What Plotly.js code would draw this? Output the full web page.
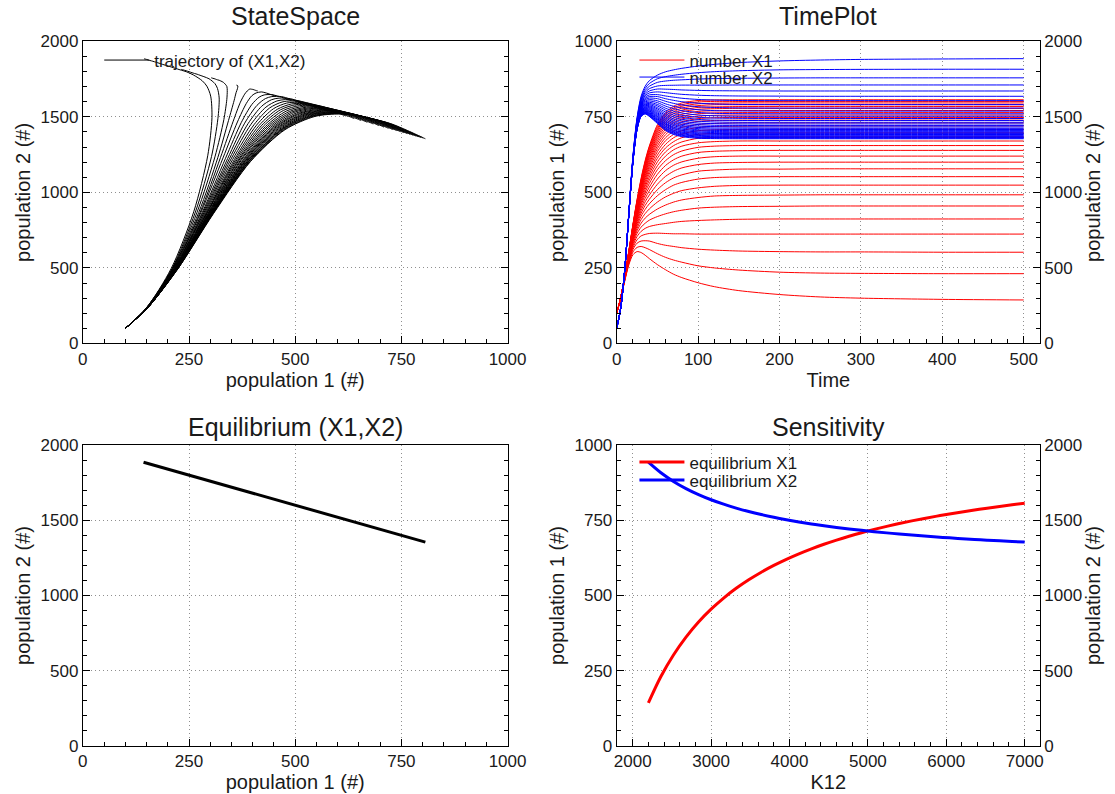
<!DOCTYPE html>
<html><head><meta charset="utf-8">
<script src="https://cdn.plot.ly/plotly-3.0.1.min.js"></script>
<style>html,body{margin:0;padding:0;background:#fff}#chart{width:1115px;height:794px}</style>
</head><body><div id="chart"></div>
<script>
// time samples (shared by every run)
const T = [0,5,10,15,20,25,30,35,40,50,60,70,80,100,120,150,200,250,300,400,500];
// parameter values of the runs
const K12 = [2200,2360,2520,2680,2840,3000,3160,3320,3480,3640,3800,3960,4120,4280,4440,4600,4760,4920,5080,5240,5400,5560,5720,5880,6040,6200,6360,6520,6680,6840,7000];
// equilibrium of each run
const EQ_X1 = [142.9,230.8,302.3,361.7,411.8,454.5,491.5,523.8,552.2,577.5,600.0,620.3,638.6,655.2,670.3,684.2,697.0,708.7,719.6,729.7,739.1,747.9,756.1,763.8,771.0,777.8,784.2,790.2,795.9,801.3,806.5];
const EQ_X2 = [1885.7,1815.4,1758.2,1710.6,1670.6,1636.4,1606.8,1581.0,1558.2,1538.0,1520.0,1503.8,1489.1,1475.8,1463.8,1452.6,1442.4,1433.0,1424.3,1416.2,1408.7,1401.7,1395.1,1389.0,1383.2,1377.8,1372.6,1367.8,1363.3,1359.0,1354.8];

// population 1 and population 2 over T, one pair per K12 value
const X1_2200 = [100,150,208,261,294,304,301,292,281,261,244,229,218,201,188,175,162,154,150,146,144];
const X2_2200 = [100,237,496,871,1242,1495,1637,1703,1739,1776,1798,1811,1821,1836,1847,1859,1870,1876,1880,1883,1885];
const X1_2360 = [100,150,210,265,303,318,321,317,311,297,285,276,269,257,250,243,236,233,232,231,231];
const X2_2360 = [100,237,496,870,1238,1488,1625,1688,1720,1752,1766,1775,1782,1792,1799,1805,1811,1813,1814,1815,1815];
const X1_2520 = [100,150,211,269,311,332,339,340,339,331,325,321,317,312,309,306,304,303,303,302,302];
const X2_2520 = [100,237,496,869,1235,1482,1615,1674,1702,1728,1737,1742,1745,1750,1753,1755,1757,1758,1758,1758,1758];
const X1_2680 = [100,151,212,273,318,343,356,361,364,365,364,363,363,362,362,362,362,362,362,362,362];
const X2_2680 = [100,237,496,868,1232,1476,1606,1662,1686,1704,1708,1709,1710,1710,1710,1711,1711,1711,1711,1711,1711];
const X1_2840 = [100,151,213,276,324,354,371,381,387,393,397,401,404,407,409,411,412,412,412,412,412];
const X2_2840 = [100,237,496,867,1230,1471,1597,1650,1671,1684,1683,1681,1678,1675,1673,1672,1671,1671,1671,1671,1671];
const X1_3000 = [100,151,214,278,330,364,385,398,408,420,429,436,441,448,451,453,454,455,455,455,455];
const X2_3000 = [100,237,496,867,1228,1466,1589,1640,1658,1665,1660,1654,1649,1643,1640,1638,1637,1636,1636,1636,1636];
const X1_3160 = [100,151,215,281,336,373,398,415,427,445,458,468,475,483,488,490,491,492,492,492,492];
const X2_3160 = [100,237,496,866,1226,1462,1582,1630,1645,1647,1638,1630,1623,1615,1611,1608,1607,1607,1607,1607,1607];
const X1_3320 = [100,152,216,283,341,381,410,430,445,468,485,497,506,515,520,523,524,524,524,524,524];
const X2_3320 = [100,237,495,866,1224,1458,1576,1621,1634,1634,1620,1609,1600,1590,1585,1582,1581,1581,1581,1581,1581];
const X1_3480 = [100,152,216,285,345,389,421,444,462,489,509,524,533,544,549,551,552,552,552,552,552];
const X2_3480 = [100,237,495,865,1222,1455,1570,1613,1624,1620,1603,1589,1579,1567,1562,1559,1558,1558,1558,1558,1558];
const X1_3640 = [100,152,217,287,349,396,431,457,477,509,532,548,558,570,574,577,577,578,578,578,578];
const X2_3640 = [100,237,495,865,1221,1451,1564,1605,1614,1606,1586,1570,1559,1547,1541,1539,1538,1538,1538,1538,1538];
const X1_3800 = [100,152,218,289,353,403,440,469,491,527,553,570,581,592,597,599,600,600,600,600,600];
const X2_3800 = [100,237,495,864,1219,1448,1559,1598,1605,1594,1571,1554,1541,1529,1523,1521,1520,1520,1520,1520,1520];
const X1_3960 = [100,152,218,291,357,409,449,480,505,544,572,590,601,613,618,620,620,620,620,620,620];
const X2_3960 = [100,237,495,864,1218,1445,1554,1591,1596,1582,1557,1538,1525,1512,1507,1504,1504,1504,1504,1504,1504];
const X1_4120 = [100,152,219,292,360,415,458,491,517,560,589,608,620,632,636,638,639,639,639,639,639];
const X2_4120 = [100,237,495,863,1217,1443,1550,1585,1588,1572,1544,1524,1510,1497,1492,1490,1489,1489,1489,1489,1489];
const X1_4280 = [100,152,219,293,363,420,465,501,529,575,605,625,637,649,653,655,655,655,655,655,655];
const X2_4280 = [100,237,495,863,1216,1440,1546,1580,1581,1561,1532,1511,1497,1483,1478,1476,1476,1476,1476,1476,1476];
const X1_4440 = [100,152,220,295,366,425,472,510,540,588,620,641,653,664,668,670,670,670,670,670,670];
const X2_4440 = [100,237,495,863,1215,1438,1542,1574,1574,1552,1520,1499,1484,1471,1466,1464,1464,1464,1464,1464,1464];
const X1_4600 = [100,152,220,296,368,430,479,519,550,601,634,655,667,679,682,684,684,684,684,684,684];
const X2_4600 = [100,237,495,863,1214,1436,1538,1569,1568,1543,1510,1487,1473,1459,1455,1453,1453,1453,1453,1453,1453];
const X1_4760 = [100,152,220,297,371,434,486,527,560,613,647,668,681,692,695,697,697,697,697,697,697];
const X2_4760 = [100,237,495,862,1213,1434,1535,1564,1562,1535,1500,1477,1462,1449,1444,1443,1442,1442,1442,1442,1442];
const X1_4920 = [100,152,221,298,373,438,492,535,569,624,659,681,693,704,707,708,709,709,709,709,709];
const X2_4920 = [100,237,495,862,1212,1432,1532,1560,1556,1527,1491,1467,1452,1439,1435,1433,1433,1433,1433,1433,1433];
const X1_5080 = [100,153,221,299,376,442,497,542,578,635,671,692,704,715,718,719,720,720,720,720,720];
const X2_5080 = [100,237,495,862,1211,1430,1529,1556,1550,1520,1482,1458,1443,1430,1426,1425,1424,1424,1424,1424,1424];
const X1_5240 = [100,153,221,300,378,446,503,549,586,645,681,703,715,725,728,730,730,730,730,730,730];
const X2_5240 = [100,237,495,862,1211,1429,1526,1552,1545,1513,1474,1449,1435,1422,1418,1417,1416,1416,1416,1416,1416];
const X1_5400 = [100,153,222,301,380,449,508,555,594,654,691,713,725,735,738,739,739,739,739,739,739];
const X2_5400 = [100,237,495,862,1210,1427,1523,1548,1540,1506,1467,1442,1427,1414,1410,1409,1409,1409,1409,1409,1409];
const X1_5560 = [100,153,222,302,382,452,512,562,601,663,700,722,734,744,747,748,748,748,748,748,748];
const X2_5560 = [100,237,495,862,1209,1426,1521,1544,1536,1500,1459,1434,1419,1407,1403,1402,1402,1402,1402,1402,1402];
const X1_5720 = [100,153,222,303,383,455,517,567,608,671,709,731,743,752,755,756,756,756,756,756,756];
const X2_5720 = [100,237,495,862,1209,1424,1518,1541,1531,1494,1453,1427,1412,1400,1396,1395,1395,1395,1395,1395,1395];
const X1_5880 = [100,153,222,303,385,458,521,573,615,679,717,739,751,760,763,764,764,764,764,764,764];
const X2_5880 = [100,237,495,862,1208,1423,1516,1538,1527,1488,1447,1421,1406,1394,1390,1389,1389,1389,1389,1389,1389];
const X1_6040 = [100,153,223,304,387,461,525,578,621,686,725,747,758,768,770,771,771,771,771,771,771];
const X2_6040 = [100,237,495,862,1207,1422,1514,1534,1523,1483,1440,1414,1399,1388,1384,1383,1383,1383,1383,1383,1383];
const X1_6200 = [100,153,223,305,388,464,529,584,627,693,732,754,766,775,777,778,778,778,778,778,778];
const X2_6200 = [100,237,495,862,1207,1420,1512,1531,1520,1478,1435,1408,1394,1382,1379,1378,1378,1378,1378,1378,1378];
const X1_6360 = [100,153,223,305,390,467,533,588,633,700,739,761,772,781,783,784,784,784,784,784,784];
const X2_6360 = [100,237,495,862,1206,1419,1510,1529,1516,1473,1429,1403,1388,1377,1374,1373,1373,1373,1373,1373,1373];
const X1_6520 = [100,153,223,306,391,469,537,593,638,706,746,767,779,787,790,790,790,790,790,790,790];
const X2_6520 = [100,237,495,862,1206,1418,1508,1526,1513,1468,1424,1398,1383,1372,1369,1368,1368,1368,1368,1368,1368];
const X1_6680 = [100,153,223,307,392,471,540,597,644,712,752,774,785,793,795,796,796,796,796,796,796];
const X2_6680 = [100,237,495,862,1206,1417,1506,1523,1509,1464,1419,1393,1378,1367,1364,1363,1363,1363,1363,1363,1363];
const X1_6840 = [100,153,224,307,394,474,543,602,649,718,758,779,790,799,801,801,801,801,801,801,801];
const X2_6840 = [100,237,495,862,1205,1416,1504,1521,1506,1460,1414,1388,1374,1363,1360,1359,1359,1359,1359,1359,1359];
const X1_7000 = [100,153,224,308,395,476,547,606,653,724,764,785,796,804,806,806.4,806.5,806.5,806.5,806.5,806.5];
const X2_7000 = [100,237,495,861,1205,1415,1503,1519,1503,1456,1410,1383,1369,1358,1356,1355,1355,1355,1355,1355,1355];

const X1_SERIES = [X1_2200,X1_2360,X1_2520,X1_2680,X1_2840,X1_3000,X1_3160,X1_3320,X1_3480,X1_3640,X1_3800,X1_3960,X1_4120,X1_4280,X1_4440,X1_4600,X1_4760,X1_4920,X1_5080,X1_5240,X1_5400,X1_5560,X1_5720,X1_5880,X1_6040,X1_6200,X1_6360,X1_6520,X1_6680,X1_6840,X1_7000];
const X2_SERIES = [X2_2200,X2_2360,X2_2520,X2_2680,X2_2840,X2_3000,X2_3160,X2_3320,X2_3480,X2_3640,X2_3800,X2_3960,X2_4120,X2_4280,X2_4440,X2_4600,X2_4760,X2_4920,X2_5080,X2_5240,X2_5400,X2_5560,X2_5720,X2_5880,X2_6040,X2_6200,X2_6360,X2_6520,X2_6680,X2_6840,X2_7000];

const RED = '#ff0000', BLUE = '#0000ff', INK = '#1a1a1a';
const FONT = 'Liberation Sans, Arial, Helvetica, sans-serif';

const traces = [];
// StateSpace
X1_SERIES.forEach((x1, i) => {
  traces.push({x: x1, y: X2_SERIES[i], xaxis: 'x', yaxis: 'y', mode: 'lines',
    line: {color: 'black', width: 1, shape: 'spline', smoothing: 0.8},
    name: 'trajectory of (X1,X2)', showlegend: i === 0, legend: 'legend', hoverinfo: 'skip'});
});
// TimePlot
X1_SERIES.forEach((x1, i) => {
  traces.push({x: T, y: x1, xaxis: 'x2', yaxis: 'y2', mode: 'lines',
    line: {color: RED, width: 1, shape: 'spline', smoothing: 0.8},
    name: 'number X1', showlegend: i === 0, legend: 'legend2', hoverinfo: 'skip'});
  traces.push({x: T, y: X2_SERIES[i], xaxis: 'x2', yaxis: 'y3', mode: 'lines',
    line: {color: BLUE, width: 1, shape: 'spline', smoothing: 0.8},
    name: 'number X2', showlegend: i === 0, legend: 'legend4', hoverinfo: 'skip'});
});
// Equilibrium
traces.push({x: EQ_X1, y: EQ_X2, xaxis: 'x3', yaxis: 'y4', mode: 'lines',
  line: {color: 'black', width: 3}, showlegend: false, hoverinfo: 'skip'});
// Sensitivity
traces.push({x: K12, y: EQ_X1, xaxis: 'x4', yaxis: 'y5', mode: 'lines',
  line: {color: RED, width: 3, shape: 'spline'}, name: 'equilibrium X1', legend: 'legend3', hoverinfo: 'skip'});
traces.push({x: K12, y: EQ_X2, xaxis: 'x4', yaxis: 'y6', mode: 'lines',
  line: {color: BLUE, width: 3, shape: 'spline'}, name: 'equilibrium X2', legend: 'legend5', hoverinfo: 'skip'});

const LEFT = [0.0743, 0.4552], RIGHT = [0.5531, 0.9327];
const TOP = [0.5674, 0.948], BOTTOM = [0.0605, 0.4395];

function ax(extra) {
  return Object.assign({
    showline: true, linecolor: 'black', linewidth: 1, mirror: true,
    ticks: 'inside', ticklen: 7, tickwidth: 1, tickcolor: 'black',
    showgrid: true, gridcolor: '#8f8f8f', griddash: '1px,3px', gridwidth: 1,
    zeroline: false, tickfont: {family: FONT, size: 17, color: INK},
    automargin: false
  }, extra);
}
function minor(d) { return {dtick: d, ticks: 'inside', ticklen: 4, tickcolor: 'black', tickwidth: 1, showgrid: false}; }
function ttl(text, standoff) { return {text: text, font: {family: FONT, size: 20, color: INK}, standoff: standoff}; }

const legendBase = {bgcolor: 'rgba(0,0,0,0)', borderwidth: 0, xanchor: 'left', yanchor: 'top',
  font: {family: FONT, size: 17, color: INK}, itemwidth: 45, tracegroupgap: 0};
function leg(x, yTopPx) { return Object.assign({}, legendBase, {x: x, y: 1 - yTopPx / 794}); }

const layout = {
  width: 1115, height: 794, margin: {l: 0, r: 0, t: 0, b: 0},
  paper_bgcolor: 'white', plot_bgcolor: 'white', font: {family: FONT, color: INK},
  xaxis: ax({domain: LEFT, anchor: 'y', range: [0, 1000], dtick: 250, minor: minor(50), title: ttl('population 1 (#)', 4)}),
  yaxis: ax({domain: TOP, anchor: 'x', range: [0, 2000], dtick: 500, minor: minor(100), mirror: 'allticks', title: ttl('population 2 (#)', 4)}),
  xaxis2: ax({domain: RIGHT, anchor: 'y2', range: [0, 520], dtick: 100, minor: minor(20), title: ttl('Time', 4)}),
  yaxis2: ax({domain: TOP, anchor: 'x2', range: [0, 1000], dtick: 250, minor: minor(50), title: ttl('population 1 (#)', 4)}),
  yaxis3: ax({overlaying: 'y2', side: 'right', anchor: 'x2', range: [0, 2000], dtick: 500, minor: minor(100), showgrid: false, title: ttl('population 2 (#)', 4)}),
  xaxis3: ax({domain: LEFT, anchor: 'y4', range: [0, 1000], dtick: 250, minor: minor(50), title: ttl('population 1 (#)', 4)}),
  yaxis4: ax({domain: BOTTOM, anchor: 'x3', range: [0, 2000], dtick: 500, minor: minor(100), mirror: 'allticks', title: ttl('population 2 (#)', 4)}),
  xaxis4: ax({domain: RIGHT, anchor: 'y5', range: [1796, 7195], dtick: 1000, minor: minor(200), title: ttl('K12', 4)}),
  yaxis5: ax({domain: BOTTOM, anchor: 'x4', range: [0, 1000], dtick: 250, minor: minor(50), title: ttl('population 1 (#)', 4)}),
  yaxis6: ax({overlaying: 'y5', side: 'right', anchor: 'x4', range: [0, 2000], dtick: 500, minor: minor(100), showgrid: false, title: ttl('population 2 (#)', 4)}),
  legend: leg(0.089, 42.5),
  legend2: leg(0.569, 42.5),
  legend4: leg(0.569, 59.5),
  legend3: leg(0.569, 444.5),
  legend5: leg(0.569, 462.5),
  annotations: [
    {text: 'StateSpace', x: 0.2647, y: 0.9798},
    {text: 'TimePlot', x: 0.7429, y: 0.9798},
    {text: 'Equilibrium (X1,X2)', x: 0.2647, y: 0.4622},
    {text: 'Sensitivity', x: 0.7429, y: 0.4622}
  ].map(a => Object.assign(a, {xref: 'paper', yref: 'paper', xanchor: 'center', yanchor: 'middle', showarrow: false,
    font: {family: FONT, size: 25, color: INK}})),
  showlegend: true
};

Plotly.newPlot('chart', traces, layout, {staticPlot: true, displayModeBar: false});
</script></body></html>
